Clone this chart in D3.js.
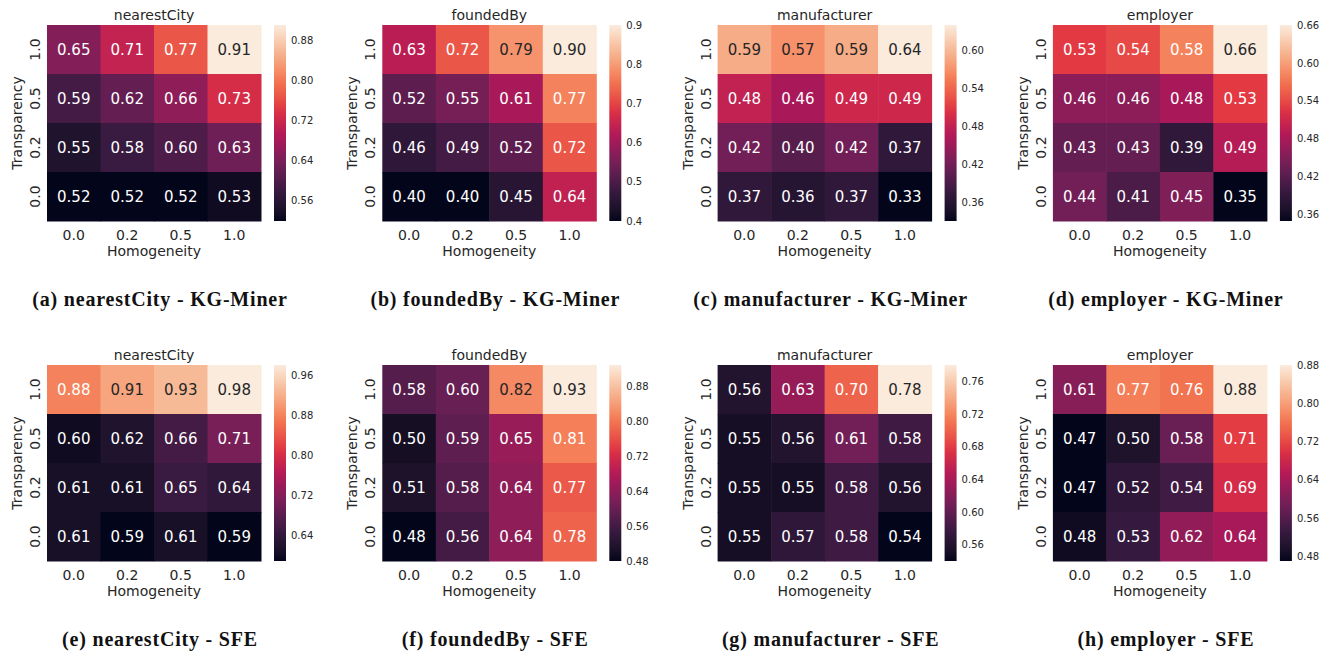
<!DOCTYPE html>
<html>
<head>
<meta charset="utf-8">
<script src="https://cdn.jsdelivr.net/npm/d3@7"></script>
<style>
  html, body { margin: 0; padding: 0; background: #fff; }
  text { font-family: "DejaVu Sans", sans-serif; fill: #262626; }
  .caption { font-family: "Liberation Serif", "DejaVu Serif", serif; font-weight: bold; fill: #111; }
</style>
</head>
<body>
<div id="chart"></div>
<script>
// Axis categories (rows listed top to bottom)
const homogeneity = ["0.0", "0.2", "0.5", "1.0"];
const transparency = ["1.0", "0.5", "0.2", "0.0"];

// Panel titles and captions
const relations = ["nearestCity", "foundedBy", "manufacturer", "employer"];
const systems = ["KG-Miner", "SFE"];
const letters = ["a", "b", "c", "d", "e", "f", "g", "h"];

// Cell values, rows = transparency 1.0, 0.5, 0.2, 0.0
const nearestCityKG = [[0.65, 0.71, 0.77, 0.91], [0.59, 0.62, 0.66, 0.73], [0.55, 0.58, 0.60, 0.63], [0.52, 0.52, 0.52, 0.53]];
const foundedByKG = [[0.63, 0.72, 0.79, 0.90], [0.52, 0.55, 0.61, 0.77], [0.46, 0.49, 0.52, 0.72], [0.40, 0.40, 0.45, 0.64]];
const manufacturerKG = [[0.59, 0.57, 0.59, 0.64], [0.48, 0.46, 0.49, 0.49], [0.42, 0.40, 0.42, 0.37], [0.37, 0.36, 0.37, 0.33]];
const employerKG = [[0.53, 0.54, 0.58, 0.66], [0.46, 0.46, 0.48, 0.53], [0.43, 0.43, 0.39, 0.49], [0.44, 0.41, 0.45, 0.35]];
const nearestCitySFE = [[0.88, 0.91, 0.93, 0.98], [0.60, 0.62, 0.66, 0.71], [0.61, 0.61, 0.65, 0.64], [0.61, 0.59, 0.61, 0.59]];
const foundedBySFE = [[0.58, 0.60, 0.82, 0.93], [0.50, 0.59, 0.65, 0.81], [0.51, 0.58, 0.64, 0.77], [0.48, 0.56, 0.64, 0.78]];
const manufacturerSFE = [[0.56, 0.63, 0.70, 0.78], [0.55, 0.56, 0.61, 0.58], [0.55, 0.55, 0.58, 0.56], [0.55, 0.57, 0.58, 0.54]];
const employerSFE = [[0.61, 0.77, 0.76, 0.88], [0.47, 0.50, 0.58, 0.71], [0.47, 0.52, 0.54, 0.69], [0.48, 0.53, 0.62, 0.64]];

// Colorbar tick labels per panel
const ticksNearestCityKG = ["0.56", "0.64", "0.72", "0.80", "0.88"];
const ticksFoundedByKG = ["0.4", "0.5", "0.6", "0.7", "0.8", "0.9"];
const ticksManufacturerKG = ["0.36", "0.42", "0.48", "0.54", "0.60"];
const ticksEmployerKG = ["0.36", "0.42", "0.48", "0.54", "0.60", "0.66"];
const ticksNearestCitySFE = ["0.64", "0.72", "0.80", "0.88", "0.96"];
const ticksFoundedBySFE = ["0.48", "0.56", "0.64", "0.72", "0.80", "0.88"];
const ticksManufacturerSFE = ["0.56", "0.60", "0.64", "0.68", "0.72", "0.76"];
const ticksEmployerSFE = ["0.48", "0.56", "0.64", "0.72", "0.80", "0.88"];

const panelValues = [nearestCityKG, foundedByKG, manufacturerKG, employerKG,
                     nearestCitySFE, foundedBySFE, manufacturerSFE, employerSFE];
const panelTicks = [ticksNearestCityKG, ticksFoundedByKG, ticksManufacturerKG, ticksEmployerKG,
                    ticksNearestCitySFE, ticksFoundedBySFE, ticksManufacturerSFE, ticksEmployerSFE];

// seaborn "rocket" colormap anchors
const rocket = ["#03051a", "#35193e", "#701f57", "#ad1759", "#e13342", "#f37651", "#f6b48f", "#faebdd"];
const rocketInterp = d3.piecewise(d3.interpolateLab, rocket);

const width = 1329, height = 656;
const svg = d3.select("#chart").append("svg")
    .attr("width", width)
    .attr("height", height);
const defs = svg.append("defs");

const hmW = 214, hmH = 196;
const colStep = 335.3;
const rowTops = [25, 365];

function luminance(c) {
    const rgb = d3.rgb(c);
    const lin = v => { v /= 255; return v <= 0.03928 ? v / 12.92 : Math.pow((v + 0.055) / 1.055, 2.4); };
    return 0.2126 * lin(rgb.r) + 0.7152 * lin(rgb.g) + 0.0722 * lin(rgb.b);
}

panelValues.forEach((vals, p) => {
    const col = p % 4, row = Math.floor(p / 4);
    const x0 = 47 + col * colStep, y0 = rowTops[row];
    const g = svg.append("g").attr("transform", `translate(${x0},${y0})`);

    const flat = vals.flat();
    const vmin = d3.min(flat), vmax = d3.max(flat);
    const color = d3.scaleSequential(rocketInterp).domain([vmin, vmax]);

    const x = d3.scaleBand().domain(homogeneity).range([0, hmW]);
    const y = d3.scaleBand().domain(transparency).range([0, hmH]);

    const cells = [];
    vals.forEach((r, i) => r.forEach((v, j) => cells.push({t: transparency[i], h: homogeneity[j], v})));

    g.selectAll("rect.cell").data(cells).enter().append("rect")
        .attr("class", "cell")
        .attr("x", d => x(d.h))
        .attr("y", d => y(d.t))
        .attr("width", x.bandwidth() + 0.5)
        .attr("height", y.bandwidth() + 0.5)
        .attr("fill", d => color(d.v));

    g.selectAll("text.ann").data(cells).enter().append("text")
        .attr("class", "ann")
        .attr("x", d => x(d.h) + x.bandwidth() / 2)
        .attr("y", d => y(d.t) + y.bandwidth() / 2)
        .attr("dy", "0.36em")
        .attr("text-anchor", "middle")
        .style("font-size", "15px")
        .style("fill", d => luminance(color(d.v)) > 0.38 ? "#262626" : "#ffffff")
        .text(d => d.v.toFixed(2));

    // title
    g.append("text")
        .attr("x", hmW / 2).attr("y", -10).attr("dy", "0.36em")
        .attr("text-anchor", "middle")
        .style("font-size", "14px")
        .text(relations[col]);

    // x ticks
    g.selectAll("text.xt").data(homogeneity).enter().append("text")
        .attr("x", d => x(d) + x.bandwidth() / 2)
        .attr("y", hmH + 14).attr("dy", "0.36em")
        .attr("text-anchor", "middle")
        .style("font-size", "14px")
        .text(d => d);
    g.append("text")
        .attr("x", hmW / 2).attr("y", hmH + 30).attr("dy", "0.36em")
        .attr("text-anchor", "middle")
        .style("font-size", "14px")
        .text("Homogeneity");

    // y ticks (rotated)
    g.selectAll("text.yt").data(transparency).enter().append("text")
        .attr("transform", d => `translate(-12,${y(d) + y.bandwidth() / 2}) rotate(-90)`)
        .attr("dy", "0.36em")
        .attr("text-anchor", "middle")
        .style("font-size", "14px")
        .text(d => d);
    g.append("text")
        .attr("transform", `translate(-30,${hmH / 2}) rotate(-90)`)
        .attr("dy", "0.36em")
        .attr("text-anchor", "middle")
        .style("font-size", "14px")
        .text("Transparency");

    // colorbar
    const cbX = 227, cbW = 12;
    const gid = "grad" + p;
    const grad = defs.append("linearGradient").attr("id", gid)
        .attr("x1", 0).attr("y1", 1).attr("x2", 0).attr("y2", 0);
    d3.range(0, 1.0001, 0.05).forEach(t => {
        grad.append("stop").attr("offset", t).attr("stop-color", rocketInterp(t));
    });
    g.append("rect")
        .attr("x", cbX).attr("y", 0)
        .attr("width", cbW).attr("height", hmH)
        .attr("fill", `url(#${gid})`);
    const cy = d3.scaleLinear().domain([vmin, vmax]).range([hmH, 0]);
    g.selectAll("text.ct").data(panelTicks[p]).enter().append("text")
        .attr("x", cbX + cbW + 5)
        .attr("y", d => cy(+d))
        .attr("dy", "0.36em")
        .style("font-size", "10px")
        .text(d => d);

    // caption
    g.append("text")
        .attr("class", "caption")
        .attr("x", 113).attr("y", 281)
        .attr("text-anchor", "middle")
        .style("font-size", "20px")
        .style("letter-spacing", "0.8px")
        .text(`(${letters[p]}) ${relations[col]} - ${systems[row]}`);
});
</script>
</body>
</html>
